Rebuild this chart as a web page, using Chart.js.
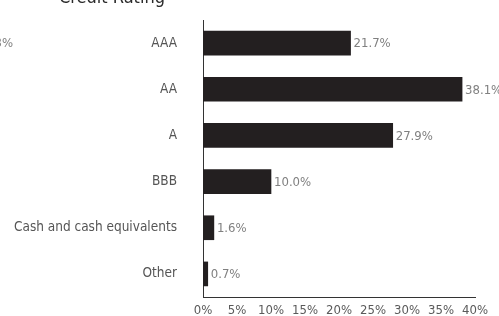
<!DOCTYPE html>
<html>
<head>
<meta charset="utf-8">
<script src="https://cdn.jsdelivr.net/npm/chart.js@4/dist/chart.umd.min.js"></script>
<style>
  html, body { margin: 0; padding: 0; background: #fff; overflow: hidden; }
  #wrap { width: 499px; height: 316px; position: relative; }
</style>
</head>
<body>
<div id="wrap"><canvas id="chart"></canvas></div>
<script>
const categories = ['AAA', 'AA', 'A', 'BBB', 'Cash and cash equivalents', 'Other']
const values = [21.7, 38.1, 27.9, 10.0, 1.6, 0.7]
const tickValues = [0, 5, 10, 15, 20, 25, 30, 35, 40]
const title = 'Credit Rating'

const FONT = "'DejaVu Sans Condensed', 'DejaVu Sans', sans-serif"

// value labels at bar ends, plus the cropped title
const extras = {
  id: 'extras',
  afterDatasetsDraw(chart) {
    const ctx = chart.ctx
    const meta = chart.getDatasetMeta(0)
    ctx.save()
    ctx.font = '13px ' + FONT
    ctx.fillStyle = '#808080'
    ctx.textAlign = 'left'
    ctx.textBaseline = 'middle'
    meta.data.forEach((bar, i) => {
      ctx.fillText(values[i].toFixed(1) + '%', bar.x + 3, bar.y + 1)
    })
    ctx.restore()
  },
  afterDraw(chart) {
    const ctx = chart.ctx
    ctx.save()
    ctx.font = '18px ' + FONT
    ctx.fillStyle = '#2a2a2a'
    ctx.textAlign = 'center'
    ctx.textBaseline = 'alphabetic'
    ctx.fillText(title, 112, 3)
    ctx.font = '13px ' + FONT
    ctx.fillStyle = '#808080'
    ctx.textAlign = 'right'
    ctx.textBaseline = 'middle'
    ctx.fillText('13%', 13, 44)
    ctx.restore()
  }
}

new Chart(document.getElementById('chart'), {
  type: 'bar',
  data: {
    labels: categories,
    datasets: [{
      data: values,
      backgroundColor: '#231f20',
      barThickness: 24
    }]
  },
  options: {
    indexAxis: 'y',
    responsive: true,
    maintainAspectRatio: false,
    animation: false,
    layout: { padding: { top: 20, right: 24, left: 0, bottom: 0 } },
    plugins: {
      legend: { display: false },
      tooltip: { enabled: false }
    },
    scales: {
      x: {
        min: 0,
        max: 40,
        afterBuildTicks(scale) {
          scale.ticks = tickValues.map(v => ({ value: v }))
        },
        afterFit(scale) {
          scale.height = 19
          scale.paddingLeft = 0
          scale.paddingRight = 0
        },
        grid: { display: false, drawTicks: false },
        border: { color: '#333', width: 1 },
        ticks: {
          padding: 6,
          maxRotation: 0,
          autoSkip: false,
          color: '#5a5a5a',
          font: { family: FONT, size: 13 },
          callback: v => v + '%'
        }
      },
      y: {
        afterFit(scale) {
          scale.width = 203
          scale.paddingTop = 0
          scale.paddingBottom = 0
        },
        grid: { display: false, drawTicks: false },
        border: { color: '#333', width: 1 },
        ticks: {
          padding: 26,
          color: '#555',
          font: { family: FONT, size: 13.5 }
        }
      }
    }
  },
  plugins: [extras]
})
</script>
</body>
</html>
